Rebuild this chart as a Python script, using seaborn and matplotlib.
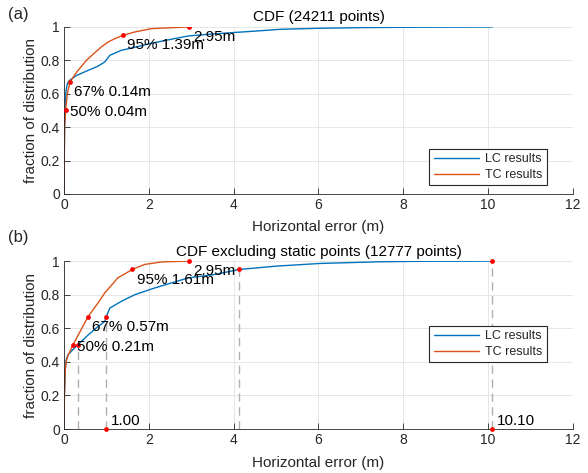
import numpy as np
import pandas as pd
import matplotlib
matplotlib.use("Agg")
import matplotlib.pyplot as plt
import seaborn as sns

# ---- data ----
# (a) all points
lc_a_x = [0, 0.005, 0.015, 0.03, 0.05, 0.08, 0.13, 0.3, 0.57, 0.8, 0.96, 1.08, 1.35, 1.7,
          2.02, 2.5, 2.93, 3.5, 4.02, 4.5, 5.1, 6.0, 7.0, 8.0, 9.0, 10.1]
lc_a_y = [0, 0.15, 0.4, 0.55, 0.62, 0.66, 0.68, 0.71, 0.74, 0.765, 0.79, 0.83, 0.86, 0.88,
          0.90, 0.925, 0.946, 0.958, 0.967, 0.975, 0.986, 0.992, 0.996, 0.998, 0.999, 1.0]
tc_a_x = [0, 0.005, 0.015, 0.04, 0.08, 0.14, 0.3, 0.53, 0.7, 0.88, 1.04, 1.2, 1.39, 1.67,
          2.06, 2.5, 2.95]
tc_a_y = [0, 0.2, 0.4, 0.5, 0.6, 0.67, 0.73, 0.80, 0.84, 0.88, 0.91, 0.93, 0.95, 0.97,
          0.99, 0.995, 1.0]

# (b) excluding static points
lc_b_x = [0, 0.01, 0.03, 0.05, 0.09, 0.2, 0.32, 0.57, 0.8, 0.96, 1.0, 1.08, 1.35, 1.67,
          2.14, 2.6, 2.93, 3.55, 4.13, 5.0, 6.04, 7.45, 8.5, 10.1]
lc_b_y = [0, 0.2, 0.35, 0.41, 0.44, 0.47, 0.5, 0.56, 0.61, 0.64, 0.67, 0.72, 0.76, 0.80,
          0.84, 0.875, 0.90, 0.92, 0.95, 0.97, 0.986, 0.996, 0.999, 1.0]
tc_b_x = [0, 0.01, 0.03, 0.05, 0.1, 0.21, 0.4, 0.57, 0.8, 0.96, 1.27, 1.61, 1.9, 2.3, 2.95]
tc_b_y = [0, 0.2, 0.35, 0.40, 0.44, 0.5, 0.59, 0.67, 0.75, 0.81, 0.90, 0.95, 0.98, 0.995, 1.0]

# percentile markers
levels = [0.5, 0.67, 0.95, 1.0]
tc_a_marks = [0.04, 0.14, 1.39, 2.95]
tc_b_marks = [0.21, 0.57, 1.61, 2.95]
lc_b_marks = [0.32, 1.0, 4.13, 10.1]
labels_a = ["50% 0.04m", "67% 0.14m", "95% 1.39m", "2.95m"]
labels_b = ["50% 0.21m", "67% 0.57m", "95% 1.61m", "2.95m"]
label_dy = [-0.01, -0.06, -0.06, -0.06]
axis_marks = [1.0, 10.1]
axis_labels = ["1.00", "10.10"]

blue = "#0072BD"
orange = "#D95319"
dark = "#262626"

sns.set_style("whitegrid", {"grid.color": "#e2e2e2", "axes.edgecolor": dark,
                            "xtick.direction": "in", "ytick.direction": "in",
                            "xtick.bottom": True, "ytick.left": True})
plt.rcParams['font.family'] = ['Liberation Sans', 'DejaVu Sans']

fig = plt.figure(figsize=(5.88, 4.73), dpi=100)
ax1 = fig.add_axes([0.1088, 0.590, 0.8656, 0.353])
ax2 = fig.add_axes([0.1088, 0.093, 0.8656, 0.355])


def draw(ax, lc_x, lc_y, tc_x, tc_y, title):
    df = pd.concat([pd.DataFrame({"err": lc_x, "frac": lc_y, "res": "LC results"}),
                    pd.DataFrame({"err": tc_x, "frac": tc_y, "res": "TC results"})])
    sns.lineplot(data=df, x="err", y="frac", hue="res", palette=[blue, orange],
                 sort=False, estimator=None, linewidth=1.0, ax=ax)
    ax.set_xlim(0, 12)
    ax.set_ylim(0, 1)
    ax.set_xticks(np.arange(0, 13, 2))
    ax.set_yticks([0, 0.2, 0.4, 0.6, 0.8, 1])
    ax.set_yticklabels(["0", "0.2", "0.4", "0.6", "0.8", "1"])
    ax.tick_params(labelsize=10, colors=dark, length=4, width=0.6, pad=3)
    ax.set_xlabel("Horizontal error (m)", fontsize=11, color=dark, labelpad=6)
    ax.set_ylabel("fraction of distribution", fontsize=11, color=dark, labelpad=2)
    ax.set_title(title, fontsize=11, color="black", pad=4)
    for s in ["top", "right"]:
        ax.spines[s].set_visible(False)
    for s in ["left", "bottom"]:
        ax.spines[s].set_linewidth(0.6)
    ax.grid(True, linewidth=0.6)
    ax.set_axisbelow(True)


draw(ax1, lc_a_x, lc_a_y, tc_a_x, tc_a_y, "CDF (24211 points)")
draw(ax2, lc_b_x, lc_b_y, tc_b_x, tc_b_y, "CDF excluding static points (12777 points)")

# dashed drop lines for LC percentiles in (b)
ax2.vlines(lc_b_marks, 0, levels, colors="#b0b0b0", linestyles=(0, (6, 4)), linewidth=1.0, zorder=1.5)

# red markers
sns.scatterplot(x=tc_a_marks, y=levels, color="red", s=12, linewidth=0, ax=ax1, zorder=5)
sns.scatterplot(x=tc_b_marks + lc_b_marks + axis_marks, y=levels + levels + [0, 0],
                color="red", s=12, linewidth=0, ax=ax2, zorder=5, clip_on=False)

for ax, marks, labs in [(ax1, tc_a_marks, labels_a), (ax2, tc_b_marks, labels_b)]:
    for xm, lv, lab, dy in zip(marks, levels, labs, label_dy):
        ax.text(xm + 0.1, lv + dy, lab, fontsize=11, ha="left", va="center", color="black", zorder=6)
for xm, lab in zip(axis_marks, axis_labels):
    ax2.text(xm + 0.1, 0.045, lab, fontsize=11, ha="left", va="center", color="black", zorder=6)

for ax, y0 in [(ax1, 0.685), (ax2, 0.311)]:
    h, l = ax.get_legend_handles_labels()
    leg = ax.legend(h, l, loc="upper right", bbox_to_anchor=(0.930, y0),
                    bbox_transform=fig.transFigure, fontsize=9, frameon=True,
                    fancybox=False, framealpha=1, edgecolor=dark, handlelength=3.6,
                    borderpad=0.35, labelspacing=0.3, handletextpad=0.5, borderaxespad=0)
    leg.get_frame().set_linewidth(0.8)

fig.text(8 / 588, 1 - 15 / 473, "(a)", fontsize=12, va="center", ha="left")
fig.text(8 / 588, 1 - 237 / 473, "(b)", fontsize=12, va="center", ha="left")

fig.savefig("out.png", dpi=100)
